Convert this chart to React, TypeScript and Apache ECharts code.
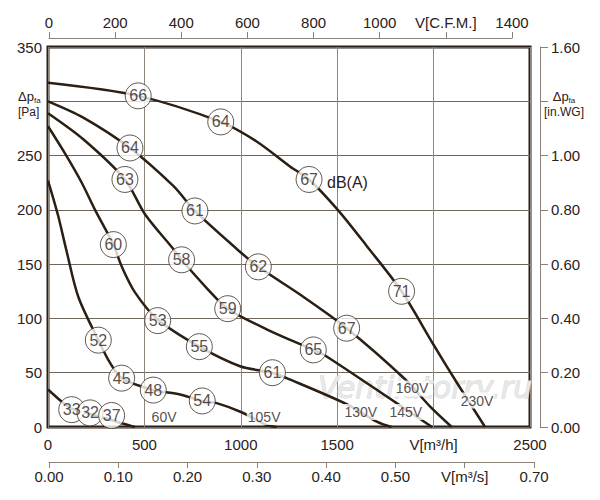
import React, { useEffect, useRef } from "react";
import * as echarts from "echarts";

const FONT = "Liberation Sans, Arial, sans-serif";
const INK = "#2a2119";
const CURVE = "#2b1e12";

// fan curves: airflow V [m3/h] against static pressure [Pa]
const curve230V = [
  [0, 317], [468, 305], [896, 281], [1082, 263], [1255, 240], [1354, 228],
  [1503, 200], [1652, 167], [1834, 125], [1999, 76], [2120, 41], [2267, 0],
];
const curve160V = [
  [0, 300], [183, 285], [425, 257], [650, 222], [762, 199], [979, 164],
  [1091, 147.5], [1307, 122], [1549, 91], [1852, 44], [1981, 19], [2094, 0],
];
const curve145V = [
  [0, 289], [183, 265], [399, 228], [503, 196], [650, 164], [693, 154],
  [823, 128], [932, 109], [1134, 90], [1376, 71], [1445, 65], [1808, 22], [1992, 0],
];
const curve130V = [
  [0, 277], [88, 252], [175, 225], [244, 200], [339, 168], [382, 148],
  [451, 124], [569, 99], [785, 74], [996, 56], [1164, 50], [1238, 45],
  [1549, 21], [1705, 5], [1782, 0],
];
const curve105V = [
  [0, 227], [52, 195], [95, 163], [157, 120], [261, 80], [322, 59], [382, 45],
  [546, 34], [685, 30], [800, 24], [875, 22], [1004, 13.6], [1132, 2], [1186, 0],
];
const curve60V = [
  [0, 34.5], [80, 22], [123, 17], [218, 12], [300, 8], [391, 3], [451, 0],
];

// noise level circles [V, p, dB]
const dbMarks = [
  [468, 305, "66"], [896, 281, "64"], [1354, 228, "67"], [1834, 125, "71"],
  [425, 257, "64"], [762, 199, "61"], [1091, 147.5, "62"], [1549, 91, "67"],
  [399, 228, "63"], [693, 154, "58"], [932, 109, "59"], [1376, 71, "65"],
  [339, 168, "60"], [569, 98, "53"], [785, 74, "55"], [1164, 50, "61"],
  [261, 80, "52"], [382, 45, "45"], [546, 34, "48"], [800, 24, "54"],
  [123, 16, "33"], [218, 13, "32"], [330, 10.6, "37"],
];

// voltage labels [V, p, text]
const voltLabels = [
  [602, 9.2, "60V"], [1121, 9.2, "105V"], [1622, 13.8, "130V"],
  [1856, 13.8, "145V"], [1888, 35.5, "160V"], [2225, 24.4, "230V"],
];

const curves = [curve230V, curve160V, curve145V, curve130V, curve105V, curve60V];

const App: React.FC = () => {
  const chartRef = useRef<HTMLDivElement>(null);

  useEffect(() => {
    const chart = echarts.init(chartRef.current!, null, { renderer: "svg" });
    const axisText = { fontSize: 15, color: INK, fontFamily: FONT };
    const options = {
      animation: false,
      backgroundColor: "#fff",
      grid: [
        {
          left: 48, top: 47, width: 482, height: 380,
          show: true, borderColor: "#2a2018", borderWidth: 3, backgroundColor: "transparent",
        },
        { left: 49, top: 37, width: 463, height: 1 },
        { left: 49, top: 461, width: 485, height: 1 },
      ],
      xAxis: [
        {
          gridIndex: 0, type: "value", min: 0, max: 2500, interval: 500,
          axisLine: { show: false }, axisTick: { show: false },
          splitLine: { show: true, lineStyle: { color: "#8f877e", width: 1 } },
          axisLabel: {
            ...axisText, margin: 10,
            formatter: (v: number) => (v === 2000 ? "V[m³/h]" : String(v)),
          },
        },
        {
          gridIndex: 1, type: "value", position: "top", min: 0, max: 1400, interval: 200,
          axisLine: { show: true, lineStyle: { color: "#8a8178", width: 1 } },
          axisTick: { show: true, length: 6, lineStyle: { color: "#8a8178" } },
          splitLine: { show: false },
          axisLabel: {
            ...axisText, margin: 7,
            formatter: (v: number) => (v === 1200 ? "V[C.F.M.]" : String(v)),
          },
        },
        {
          gridIndex: 2, type: "value", position: "bottom", min: 0, max: 0.7, interval: 0.1,
          axisLine: { show: true, lineStyle: { color: "#8a8178", width: 1 } },
          axisTick: { show: true, length: 6, lineStyle: { color: "#8a8178" } },
          splitLine: { show: false },
          axisLabel: {
            ...axisText, margin: 7,
            formatter: (v: number) => (Math.abs(v - 0.6) < 1e-6 ? "V[m³/s]" : v.toFixed(2)),
          },
        },
      ],
      yAxis: [
        {
          gridIndex: 0, type: "value", min: 0, max: 350, interval: 50,
          axisLine: { show: false }, axisTick: { show: false },
          splitLine: { show: true, lineStyle: { color: "#6f675e", width: 1 } },
          axisLabel: {
            ...axisText, margin: 6,
            formatter: (v: number) => (v === 300 ? "" : String(v)),
          },
        },
        {
          gridIndex: 0, type: "value", position: "right", offset: 10,
          min: 0, max: 1.4, interval: 0.2,
          axisLine: { show: true, lineStyle: { color: "#8a8178", width: 1 } },
          axisTick: { show: true, length: 8, lineStyle: { color: "#8a8178" } },
          splitLine: { show: false },
          axisLabel: {
            ...axisText, margin: 11,
            formatter: (v: number) => {
              if (Math.abs(v - 1.4) < 1e-6) return "1.60";
              if (v > 1.1) return "";
              return v.toFixed(2);
            },
          },
        },
        { gridIndex: 1, type: "value", show: false },
        { gridIndex: 2, type: "value", show: false },
      ],
      graphic: [
        {
          type: "text", x: 18, y: 88, z: 10,
          style: {
            text: "{a|Δp}{s|fa}\n{b|[Pa]}",
            fill: INK,
            rich: {
              a: { fontSize: 13, fontFamily: FONT, fill: INK, lineHeight: 16 },
              s: { fontSize: 8, fontFamily: FONT, fill: INK, verticalAlign: "bottom" },
              b: { fontSize: 12, fontFamily: FONT, fill: INK, lineHeight: 16 },
            },
          },
        },
        {
          type: "text", x: 564, y: 88, z: 10,
          style: {
            text: "{a|Δp}{s|fa}\n{b|[in.WG]}",
            fill: INK, align: "center", textAlign: "center",
            rich: {
              a: { fontSize: 13, fontFamily: FONT, fill: INK, lineHeight: 16 },
              s: { fontSize: 8, fontFamily: FONT, fill: INK, verticalAlign: "bottom" },
              b: { fontSize: 12, fontFamily: FONT, fill: INK, lineHeight: 16 },
            },
          },
        },
        {
          type: "text", x: 327, y: 182, z: 10,
          style: {
            text: "dB(A)", fill: INK, font: `16px ${FONT}`,
            verticalAlign: "middle", textVerticalAlign: "middle",
          },
        },
        {
          type: "text", x: 318, y: 387, z: 1,
          style: {
            text: "Ventilatorry.ru", fill: "#e8e8e8", stroke: "#cfcfcf", lineWidth: 0.8,
            font: `italic 30px DejaVu Sans, sans-serif`,
            verticalAlign: "middle", textVerticalAlign: "middle",
          },
        },
      ],
      series: [
        ...curves.map((c) => ({
          type: "line",
          xAxisIndex: 0, yAxisIndex: 0,
          data: c,
          smooth: 0.3,
          symbol: "none",
          silent: true,
          lineStyle: { color: CURVE, width: 2.5 },
          z: 3,
        })),
        {
          type: "scatter",
          xAxisIndex: 0, yAxisIndex: 0,
          data: voltLabels.map((d) => ({ value: [d[0], d[1]], name: d[2] })),
          symbol: "rect", symbolSize: 1,
          itemStyle: { color: "rgba(0,0,0,0)" },
          label: {
            show: true, position: "inside", formatter: "{b}",
            fontSize: 14, color: INK, fontFamily: FONT,
            textBorderWidth: 0, textBorderColor: "transparent",
            backgroundColor: "#fff", padding: [1, 1],
          },
          z: 4, silent: true,
        },
        {
          type: "scatter",
          xAxisIndex: 0, yAxisIndex: 0,
          data: dbMarks.map((d) => ({ value: [d[0], d[1]], name: d[2] })),
          symbol: "circle", symbolSize: 26,
          itemStyle: { color: "#fff", borderColor: "#3b3026", borderWidth: 1 },
          label: {
            show: true, position: "inside", formatter: "{b}",
            fontSize: 16, color: INK, fontFamily: FONT,
            textBorderWidth: 0, textBorderColor: "transparent",
          },
          z: 5, silent: true,
        },
      ],
    };
    chart.setOption(options as any);

    return () => {
      chart.dispose();
    };
  }, []);

  return (
    <div
      ref={chartRef}
      style={{ position: "fixed", left: 0, top: 0, width: 600, height: 500 }}
    ></div>
  );
};

export default App;
